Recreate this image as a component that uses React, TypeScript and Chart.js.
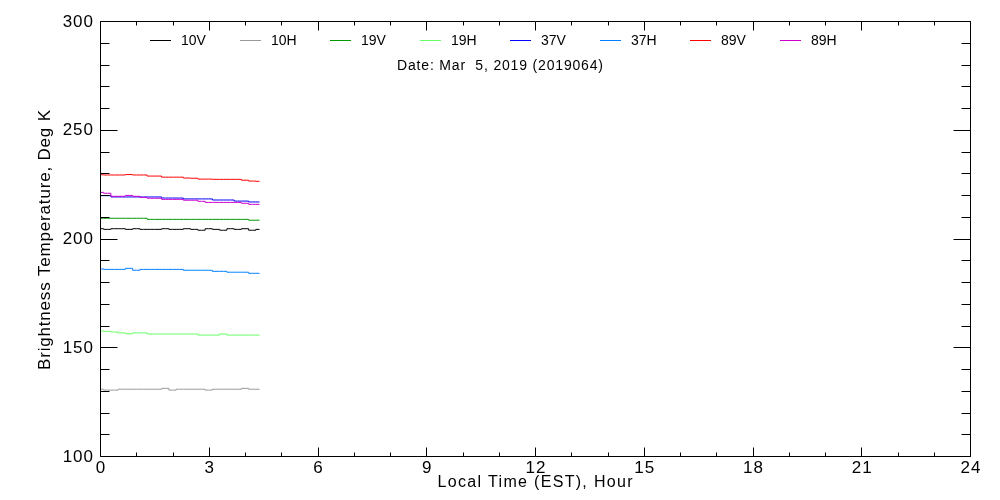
import React, { useEffect, useRef } from "react";
import { Chart, registerables } from "chart.js";

Chart.register(...registerables);

// Local time (EST), hours
const times = [0, 0.2, 0.4, 0.6, 0.8, 1.0, 1.2, 1.4, 1.6, 1.8, 2.0, 2.2, 2.4, 2.6, 2.8, 3.0, 3.2, 3.4, 3.6, 3.8, 4.0, 4.2, 4.4];

// Brightness temperatures (K)
const tb10V = [204.5, 204.2, 204.5, 204.5, 204.2, 204.5, 204.2, 204.2, 204.2, 204.5, 204.2, 204.2, 204.5, 204.2, 203.8, 204.5, 204.2, 203.8, 204.5, 204.2, 204.5, 203.8, 204.2];
const tb10H = [130.7, 130.3, 130.3, 130.7, 130.7, 130.7, 130.7, 130.7, 130.7, 131.1, 130.3, 130.7, 130.7, 130.7, 130.7, 130.3, 130.7, 130.7, 130.7, 130.7, 131.1, 130.7, 130.7];
const tb19V = [209.3, 209.3, 209.3, 209.3, 209.3, 209.3, 209.3, 208.8, 208.8, 208.8, 208.8, 208.8, 208.8, 208.8, 208.8, 208.8, 208.8, 208.8, 208.8, 208.8, 208.8, 208.4, 208.4];
const tb19H = [157.5, 157.3, 157.0, 156.6, 156.2, 156.6, 156.6, 156.1, 156.1, 156.1, 156.1, 156.1, 156.1, 156.1, 155.6, 155.6, 155.6, 156.1, 155.6, 155.6, 155.6, 155.6, 155.6];
const tb37V = [219.7, 219.7, 219.1, 219.1, 219.1, 219.1, 219.1, 219.1, 219.1, 218.6, 218.6, 218.6, 218.2, 218.2, 218.2, 218.2, 217.7, 217.7, 217.7, 217.2, 217.2, 216.8, 216.8];
const tb37H = [186.0, 185.8, 185.8, 185.8, 186.3, 185.4, 185.8, 185.8, 185.8, 185.8, 185.8, 185.8, 185.4, 185.4, 185.4, 185.4, 184.9, 184.9, 184.5, 184.5, 184.5, 184.0, 184.0];
const tb89V = [229.3, 229.2, 229.2, 229.2, 229.4, 229.2, 229.2, 228.7, 228.7, 228.2, 228.2, 228.2, 227.8, 227.7, 227.3, 227.3, 227.2, 227.2, 227.2, 227.2, 226.8, 226.4, 226.3];
const tb89H = [221.2, 220.8, 219.4, 219.4, 219.8, 219.4, 218.9, 218.5, 218.5, 218.0, 218.0, 218.0, 217.6, 217.6, 217.1, 216.6, 216.6, 216.6, 216.6, 216.6, 216.2, 215.7, 215.7];

const seriesLabels = ["10V", "10H", "19V", "19H", "37V", "37H", "89V", "89H"];
const seriesValues = [tb10V, tb10H, tb19V, tb19H, tb37V, tb37H, tb89V, tb89H];
const seriesColors = ["#000000", "#999999", "#009900", "#66ff66", "#0000ff", "#0080ff", "#ff0000", "#cc00cc"];

const xMajorTicks = [0, 3, 6, 9, 12, 15, 18, 21, 24];
const xMinorTicks = [1, 2, 4, 5, 7, 8, 10, 11, 13, 14, 16, 17, 19, 20, 22, 23];
const yMajorTicks = [100, 150, 200, 250, 300];
const yMinorTicks = [110, 120, 130, 140, 160, 170, 180, 190, 210, 220, 230, 240, 260, 270, 280, 290];

const xTitle = "Local Time (EST), Hour";
const yTitle = "Brightness Temperature, Deg K";
const dateText = "Date: Mar  5, 2019 (2019064)";

const FONT = '"Liberation Sans", Arial, sans-serif';

function drawFit(ctx: CanvasRenderingContext2D, text: string, cx: number, cy: number, target: number, size: number) {
  ctx.font = `${size}px ${FONT}`;
  (ctx as any).letterSpacing = "0px";
  const w = ctx.measureText(text).width;
  const n = text.length;
  const ls = n > 1 ? (target - w) / (n - 1) : 0;
  (ctx as any).letterSpacing = `${ls}px`;
  ctx.textAlign = "left";
  ctx.textBaseline = "middle";
  ctx.fillText(text, cx - target / 2, cy);
  (ctx as any).letterSpacing = "0px";
}

const framePlugin = {
  id: "idlFrame",
  afterDraw(chart: any) {
    const ctx: CanvasRenderingContext2D = chart.ctx;
    const xs = chart.scales.x;
    const ys = chart.scales.y;
    const { left, right, top, bottom } = chart.chartArea;
    ctx.save();
    ctx.strokeStyle = "#000";
    ctx.lineWidth = 1;
    ctx.beginPath();
    const L = Math.round(left) + 0.5, R = Math.round(right) + 0.5, T = Math.round(top) + 0.5, B = Math.round(bottom) + 0.5;
    ctx.moveTo(L, T); ctx.lineTo(R, T); ctx.lineTo(R, B); ctx.lineTo(L, B); ctx.closePath();
    // y ticks (inward, both sides)
    const yTick = (v: number, len: number) => {
      const p = Math.round(ys.getPixelForValue(v)) + 0.5;
      ctx.moveTo(L, p); ctx.lineTo(L + len, p);
      ctx.moveTo(R, p); ctx.lineTo(R - len, p);
    };
    yMajorTicks.forEach((v) => yTick(v, 17));
    yMinorTicks.forEach((v) => yTick(v, 9));
    const xTick = (v: number, len: number) => {
      const p = Math.round(xs.getPixelForValue(v)) + 0.5;
      ctx.moveTo(p, B); ctx.lineTo(p, B - len);
      ctx.moveTo(p, T); ctx.lineTo(p, T + len);
    };
    xMajorTicks.forEach((v) => xTick(v, 9));
    xMinorTicks.forEach((v) => xTick(v, 4));
    ctx.stroke();

    // tick labels
    ctx.fillStyle = "#000";
    ctx.font = `17px ${FONT}`;
    (ctx as any).letterSpacing = "1px";
    ctx.textAlign = "right";
    ctx.textBaseline = "middle";
    yMajorTicks.forEach((v) => {
      ctx.fillText(String(v), left - 6, ys.getPixelForValue(v) + 1);
    });
    ctx.textAlign = "center";
    xMajorTicks.forEach((v) => {
      ctx.fillText(String(v), xs.getPixelForValue(v) + 1, bottom + 12);
    });
    (ctx as any).letterSpacing = "0px";

    // axis titles
    drawFit(ctx, xTitle, 535, 483, 195, 16);
    ctx.save();
    ctx.translate(45, 240);
    ctx.rotate(-Math.PI / 2);
    drawFit(ctx, yTitle, 0, 0, 260, 17);
    ctx.restore();

    // legend
    ctx.font = `14px ${FONT}`;
    ctx.textAlign = "left";
    ctx.textBaseline = "middle";
    seriesLabels.forEach((lab, i) => {
      const x0 = left + 50 + i * 90;
      ctx.strokeStyle = seriesColors[i];
      ctx.beginPath();
      ctx.moveTo(x0, 40.5);
      ctx.lineTo(x0 + 21, 40.5);
      ctx.stroke();
      ctx.fillStyle = "#000";
      ctx.fillText(lab, x0 + 31, 41);
    });

    // date
    drawFit(ctx, dateText, 500, 66, 206, 14);
    ctx.restore();
  },
};

export default function App() {
  const ref = useRef<HTMLCanvasElement | null>(null);
  useEffect(() => {
    if (!ref.current) return;
    const datasets = seriesLabels.map((lab, i) => ({
      label: lab,
      data: times.map((t, j) => ({ x: t, y: seriesValues[i][j] })),
      borderColor: seriesColors[i],
      backgroundColor: seriesColors[i],
      borderWidth: 1,
      pointRadius: 0,
      stepped: "middle" as const,
      fill: false,
      order: seriesLabels.length - i,
    }));
    const chart = new Chart(ref.current, {
      type: "line",
      data: { datasets },
      options: {
        animation: false,
        responsive: false,
        maintainAspectRatio: false,
        devicePixelRatio: 1,
        layout: { padding: { left: 100, right: 30, top: 21, bottom: 44 } },
        plugins: { legend: { display: false }, tooltip: { enabled: false }, title: { display: false } },
        scales: {
          x: { type: "linear", min: 0, max: 24, display: false },
          y: { type: "linear", min: 100, max: 300, display: false },
        },
      },
      plugins: [framePlugin],
    });
    return () => chart.destroy();
  }, []);
  return (
    <div style={{ position: "absolute", left: 0, top: 0, width: 1000, height: 500, background: "#fff" }}>
      <canvas ref={ref} width={1000} height={500} style={{ display: "block", width: 1000, height: 500 }} />
    </div>
  );
}
